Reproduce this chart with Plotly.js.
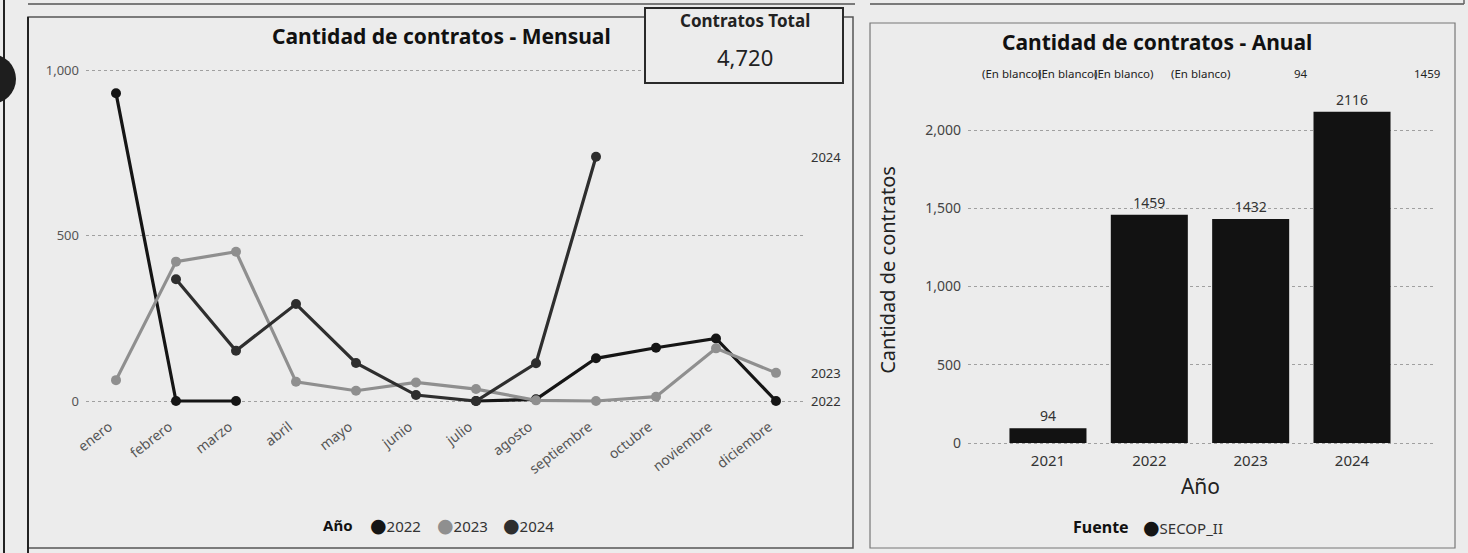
<!DOCTYPE html>
<html>
<head>
<meta charset="utf-8">
<script src="https://cdn.plot.ly/plotly-3.0.1.min.js"></script>
<style>
  html, body { margin: 0; padding: 0; background: #ececec; }
  #chart { width: 1468px; height: 553px; }
</style>
</head>
<body>
<div id="chart"></div>
<script>
// ---------- DATA ----------
const months = ["enero", "febrero", "marzo", "abril", "mayo", "junio", "julio",
                "agosto", "septiembre", "octubre", "noviembre", "diciembre"];
const seriesNames = ["2022", "2023", "2024"];
const values2022 = [930, 0, 0, null, null, null, 0, 5, 129, 161, 189, 0];
const values2023 = [63, 421, 451, 58, 31, 56, 36, 2, 0, 13, 159, 85];
const values2024 = [null, 368, 152, 293, 115, 18, 0, 114, 738, null, null, null];

const years = ["2021", "2022", "2023", "2024"];
const yearTotals = [94, 1459, 1432, 2116];
const fuenteName = "SECOP_II";
const topLabels = ["(En blanco)", "(En blanco)", "(En blanco)", "(En blanco)", "94", "1459"];

const cardTitle = "Contratos Total";
const cardValue = 4720;

const titleMensual = "Cantidad de contratos - Mensual";
const titleAnual = "Cantidad de contratos - Anual";
const yTitleAnual = "Cantidad de contratos";
const xTitleAnual = "Año";
const legendTitle1 = "Año";
const legendTitle2 = "Fuente";

// ---------- STYLE / LAYOUT HELPERS ----------
const W = 1468, H = 553;
const px = x => x / W;
const py = y => 1 - y / H;
const FONT = "Noto Sans, Open Sans, DejaVu Sans, sans-serif";
const colors = { "2022": "#151515", "2023": "#8f8f8f", "2024": "#2e2e2e" };
const seriesValues = [values2022, values2023, values2024];

const traces = [];
seriesNames.forEach((name, i) => {
  traces.push({
    type: "scatter", mode: "lines+markers",
    x: months, y: seriesValues[i], name: name,
    xaxis: "x", yaxis: "y",
    connectgaps: false,
    line: { color: colors[name], width: 3.2 },
    marker: { color: colors[name], size: 10 },
    showlegend: false, hoverinfo: "x+y+name"
  });
});

traces.push({
  type: "bar", x: years, y: yearTotals, name: fuenteName,
  xaxis: "x2", yaxis: "y2",
  marker: { color: "#121212" },
  text: yearTotals.map(v => String(v)), textposition: "outside",
  textfont: { family: FONT, size: 14, color: "#333" },
  cliponaxis: false, showlegend: false
});

const annotations = [];
// end-of-series labels
seriesNames.forEach((name, i) => {
  const vals = seriesValues[i];
  let last = null;
  for (let k = vals.length - 1; k >= 0; k--) { if (vals[k] !== null) { last = vals[k]; break; } }
  annotations.push({
    xref: "paper", yref: "y", x: px(809), y: last, xanchor: "left", yanchor: "middle",
    text: name, showarrow: false, font: { family: FONT, size: 13, color: "#333" }
  });
});
// titles
annotations.push({ xref: "paper", yref: "paper", x: px(441), y: py(36), xanchor: "center", yanchor: "middle",
  text: "<b>" + titleMensual + "</b>", showarrow: false, font: { family: FONT, size: 21, color: "#111" } });
annotations.push({ xref: "paper", yref: "paper", x: px(1157), y: py(42), xanchor: "center", yanchor: "middle",
  text: "<b>" + titleAnual + "</b>", showarrow: false, font: { family: FONT, size: 21, color: "#111" } });
// card
annotations.push({ xref: "paper", yref: "paper", x: px(745), y: py(21), xanchor: "center", yanchor: "middle",
  text: "<b>" + cardTitle + "</b>", showarrow: false, font: { family: FONT, size: 17, color: "#222" } });
annotations.push({ xref: "paper", yref: "paper", x: px(745), y: py(57), xanchor: "center", yanchor: "middle",
  text: cardValue.toLocaleString("en-US"), showarrow: false, font: { family: FONT, size: 22, color: "#222" } });
// top label row on annual chart
const topLabelX = [1011, 1067, 1123, 1200, 1301, 1427];
topLabels.forEach((t, i) => {
  annotations.push({ xref: "paper", yref: "paper", x: px(topLabelX[i]), y: py(74), xanchor: "center", yanchor: "middle",
    text: t, showarrow: false, font: { family: FONT, size: 11.5, color: "#222" } });
});
// legends (Power BI style: bold title + coloured dots)
const dot = c => '<span style="color:' + c + ';font-size:19px">●</span>';
annotations.push({ xref: "paper", yref: "paper", x: px(321), y: py(525), xanchor: "left", yanchor: "middle",
  text: "<b>" + legendTitle1 + "</b>", showarrow: false, font: { family: FONT, size: 15, color: "#111" } });
seriesNames.forEach((name, i) => {
  annotations.push({ xref: "paper", yref: "paper", x: px(368 + i * 66.5), y: py(525), xanchor: "left", yanchor: "middle",
    text: dot(colors[name]) + name, showarrow: false,
    font: { family: FONT, size: 15, color: "#333" } });
});
annotations.push({ xref: "paper", yref: "paper", x: px(1071), y: py(527), xanchor: "left", yanchor: "middle",
  text: "<b>" + legendTitle2 + "</b>", showarrow: false, font: { family: FONT, size: 16, color: "#111" } });
annotations.push({ xref: "paper", yref: "paper", x: px(1141), y: py(527), xanchor: "left", yanchor: "middle",
  text: dot("#151515") + fuenteName, showarrow: false,
  font: { family: FONT, size: 15, color: "#333" } });

const shapes = [
  // outer left line
  { type: "line", xref: "paper", yref: "paper", x0: px(4), x1: px(4), y0: 0, y1: 1, line: { color: "#222", width: 2 } },
  // upper strip borders
  { type: "line", xref: "paper", yref: "paper", x0: px(28), x1: px(855), y0: py(4), y1: py(4), line: { color: "#555", width: 1.5 } },
  { type: "line", xref: "paper", yref: "paper", x0: px(870), x1: px(1464), y0: py(4), y1: py(4), line: { color: "#555", width: 1.5 } },
  { type: "line", xref: "paper", yref: "paper", x0: px(1464), x1: px(1464), y0: py(4), y1: 1, line: { color: "#666", width: 1.5 } },
  // left panel
  { type: "rect", xref: "paper", yref: "paper", x0: px(28), x1: px(853), y0: py(548), y1: py(17), line: { color: "#555", width: 1.5 } },
  { type: "line", xref: "paper", yref: "paper", x0: px(28), x1: px(28), y0: py(553), y1: py(17), line: { color: "#222", width: 2 } },
  // right panel
  { type: "rect", xref: "paper", yref: "paper", x0: px(870), x1: px(1455), y0: py(548), y1: py(23), line: { color: "#777", width: 1.2 } },
  // card box
  { type: "rect", xref: "paper", yref: "paper", x0: px(645), x1: px(843), y0: py(83), y1: py(8), fillcolor: "#ececec", line: { color: "#2a2a2a", width: 2 } },
  // punch hole
  { type: "circle", xref: "paper", yref: "paper", x0: px(-34), x1: px(16), y0: py(104), y1: py(54), fillcolor: "#1e1e1e", line: { color: "#1e1e1e", width: 0 } }
];

const layout = {
  width: W, height: H,
  margin: { l: 0, r: 0, t: 0, b: 0 },
  paper_bgcolor: "#ececec", plot_bgcolor: "rgba(0,0,0,0)",
  font: { family: FONT, color: "#333" },
  showlegend: false,
  xaxis: {
    domain: [px(86), px(806)], anchor: "y",
    type: "category", range: [-0.5, 11.5],
    showgrid: false, zeroline: false, showline: false, ticks: "",
    tickangle: -38, ticklabelshift: -7, tickfont: { family: FONT, size: 14, color: "#555" }
  },
  yaxis: {
    domain: [py(415), py(60)], anchor: "x",
    range: [-42.3, 1030.2],
    tickvals: [0, 500, 1000], tickformat: ",d",
    showgrid: true, gridcolor: "#a0a0a0", griddash: "dot", gridwidth: 1,
    zeroline: false, showline: false, ticks: "", ticklabelstandoff: 6,
    tickfont: { family: FONT, size: 13, color: "#555" }
  },
  xaxis2: {
    domain: [px(968), px(1433)], anchor: "y2",
    type: "category", range: [-0.789, 3.799],
    showgrid: false, zeroline: false, showline: false, ticks: "",
    tickfont: { family: FONT, size: 15, color: "#333" },
    title: { text: xTitleAnual, font: { family: FONT, size: 21, color: "#222" }, standoff: 10 }
  },
  yaxis2: {
    domain: [py(450), py(90)], anchor: "x2",
    range: [-44.7, 2255.6],
    tickvals: [0, 500, 1000, 1500, 2000], tickformat: ",d",
    showgrid: true, gridcolor: "#a0a0a0", griddash: "dot", gridwidth: 1,
    zeroline: false, showline: false, ticks: "", ticklabelstandoff: 6,
    tickfont: { family: FONT, size: 14, color: "#444" },
    title: { text: yTitleAnual, font: { family: FONT, size: 20, color: "#222" }, standoff: 24 }
  },
  bargap: 0.24,
  shapes: shapes,
  annotations: annotations
};

Plotly.newPlot("chart", traces, layout, { displayModeBar: false, responsive: false });
</script>
</body>
</html>
